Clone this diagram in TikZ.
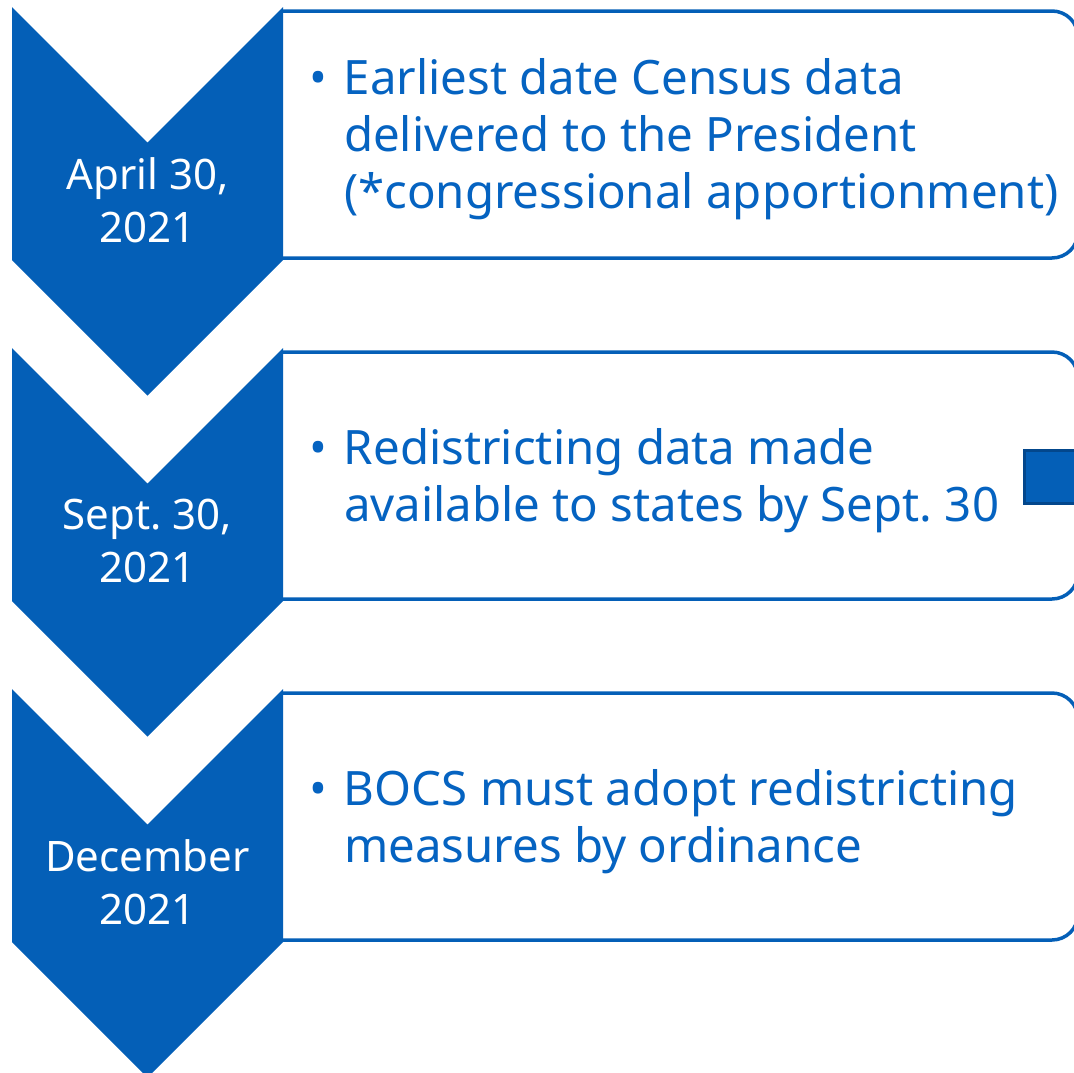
\documentclass[tikz,border=0pt]{standalone}
\usepackage{fontspec}
\setmainfont{Noto Sans}
\frenchspacing
\definecolor{chevblue}{HTML}{045FB7}
\definecolor{textblue}{HTML}{0563C1}
\definecolor{darkblue}{HTML}{03478C}
\tikzset{
  chev/.style={fill=chevblue},
  notebox/.style={draw=chevblue, line width=3.5pt, fill=white, rounded corners=26pt},
  datetext/.style={text=white, align=center, inner sep=0pt, font=\fontsize{42}{53}\selectfont},
  notetext/.style={text=textblue, anchor=west, inner sep=0pt, font=\fontsize{47.4}{57}\selectfont}
}
\begin{document}
\begin{tikzpicture}[x=1pt,y=-1pt]
   \useasboundingbox (0,0) rectangle (1074,1072);
   \foreach \t/\dte/\txt [count=\i] in {
       7/{April 30,\\2021}/{\textbullet & Earliest date Census data\\ & delivered to the President\\ & (*congressional apportionment)},
       348/{Sept. 30,\\2021}/{\textbullet & Redistricting data made\\ & available to states by Sept. 30},
       689/{December\\2021}/{\textbullet & BOCS must adopt redistricting\\ & measures by ordinance}}
   {
     \draw[notebox] (283,\t+4) -- (1078,\t+4) -- (1078,\t+251) -- (283,\t+251);
     \fill[chev] (12,\t) -- +(135.5,135.5) -- +(271,0) -- +(271,253) -- +(135.5,388.5) -- +(0,253) -- cycle;
     \node[datetext] (date\i) at (147.5,\t+193) {\dte};
     \node[notetext] (note\i) at (309,\t+133.5)
       {\begin{tabular}{@{}l@{\hspace{17pt}}l@{}}\txt\end{tabular}};
   }
   % small square at the right of the middle box
   \draw[fill=chevblue, draw=darkblue, line width=3pt] (1024,450) rectangle (1082,503);
\end{tikzpicture}
\end{document}
